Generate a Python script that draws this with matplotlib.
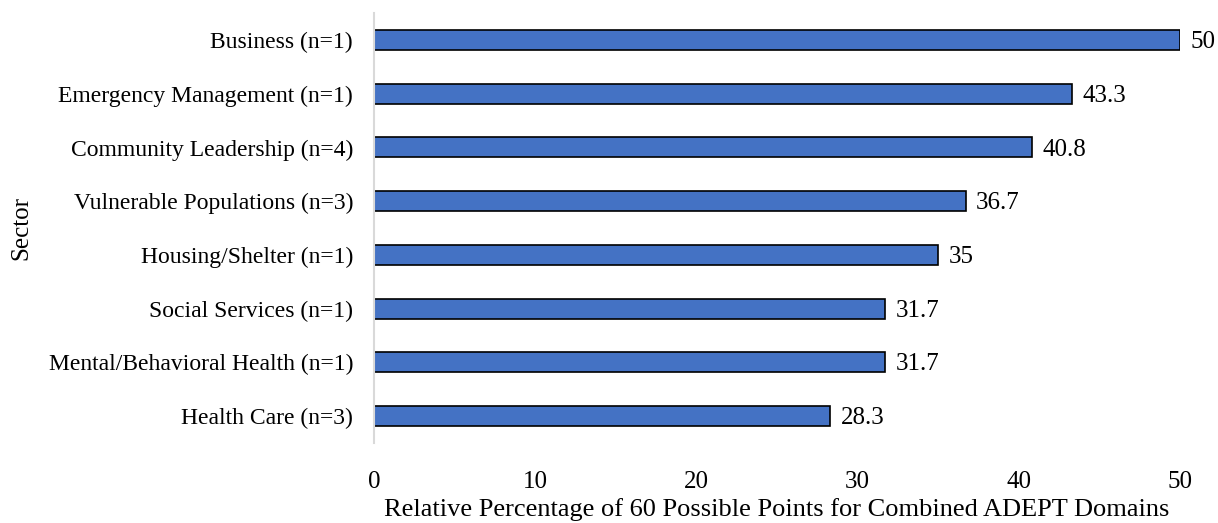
import matplotlib
matplotlib.use("Agg")
import matplotlib.pyplot as plt

# data, top to bottom as shown
sectors = [
    "Business (n=1)",
    "Emergency Management (n=1)",
    "Community Leadership (n=4)",
    "Vulnerable Populations (n=3)",
    "Housing/Shelter (n=1)",
    "Social Services (n=1)",
    "Mental/Behavioral Health (n=1)",
    "Health Care (n=3)",
]
scores = [50, 43.3, 40.8, 36.7, 35, 31.7, 31.7, 28.3]
score_labels = ["50", "43.3", "40.8", "36.7", "35", "31.7", "31.7", "28.3"]
x_ticks = [0, 10, 20, 30, 40, 50]

plt.rcParams["font.family"] = ["Liberation Serif", "DejaVu Serif"]
plt.rcParams["font.size"] = 17

fig = plt.figure(figsize=(12.18, 5.23), dpi=100)
ax = fig.add_axes([0.307, 0.153, 0.662, 0.822])

ypos = list(range(len(sectors)))[::-1]
ax.barh(ypos, scores, height=0.37, color="#4472C4", edgecolor="black", linewidth=1.2)

for y, v, lab in zip(ypos, scores, score_labels):
    ax.annotate(lab, (v, y), xytext=(7.5, -1.5), textcoords="offset points",
                va="center", ha="left", fontsize=18, annotation_clip=False)

ax.set_yticks(ypos)
ax.set_yticklabels(sectors, fontsize=17)
ax.set_xticks(x_ticks)
ax.set_xticklabels([str(t) for t in x_ticks], fontsize=18)
ax.set_xlim(0, 50)
ax.set_ylim(-0.5, len(sectors) - 0.5)

for s in ["top", "right", "bottom"]:
    ax.spines[s].set_visible(False)
ax.spines["left"].set_color("#d9d9d9")
ax.spines["left"].set_linewidth(1.5)
ax.tick_params(axis="both", length=0)
ax.tick_params(axis="x", pad=20.5)
ax.tick_params(axis="y", pad=15)

ax.set_xlabel("Relative Percentage of 60 Possible Points for Combined ADEPT Domains",
              fontsize=19, labelpad=3.5)
ax.set_ylabel("Sector", fontsize=18)
ax.yaxis.set_label_coords(-0.424, 0.5)

fig.savefig("out.png", dpi=100)
